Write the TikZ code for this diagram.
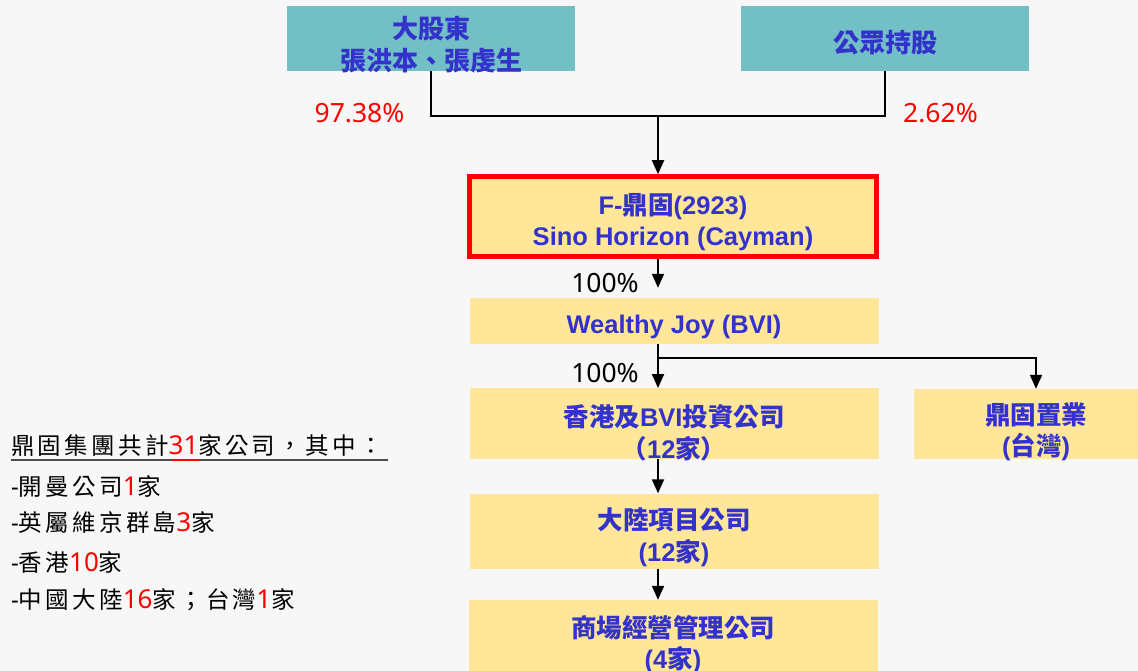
\documentclass[tikz,border=0pt]{standalone}
\usepackage{fontspec}
\setmainfont{Noto Sans}
\newfontfamily\latb{Liberation Sans}
\newfontfamily\zh{Noto Sans CJK TC}
\newfontfamily\zhleg{Noto Sans CJK TC}[LetterSpace=14]
\usetikzlibrary{arrows.meta}
\definecolor{bgcol}{HTML}{F7F7F7}
\definecolor{tealbox}{HTML}{72BFC6}
\definecolor{yelbox}{HTML}{FFE699}
\definecolor{bluetxt}{HTML}{3333CC}
\newcommand{\rednum}[1]{{\rmfamily\color{red}\fontsize{26}{30}\selectfont #1}}
\newcommand{\legdash}{{\rmfamily\fontsize{24}{30}\selectfont -}}
\tikzset{
  boxtext/.style={inner sep=0pt, align=center, text=bluetxt, font=\latb\bfseries\fontsize{25.5}{31.5}\selectfont},
  zhtext/.style={boxtext, font=\zh\bfseries\fontsize{26}{31.5}\selectfont},
  tealnode/.style={inner sep=0pt, fill=tealbox, minimum width=288pt, minimum height=65pt},
  yelnode/.style={inner sep=0pt, fill=yelbox},
  conn/.style={line width=2pt, draw=black},
  arr/.style={conn, -{Triangle[width=12pt,length=14pt]}},
  pct/.style={font=\fontsize{26.5}{30}\selectfont, inner sep=0pt},
  legend/.style={font=\zhleg\fontsize{23.5}{30}\selectfont, anchor=west, inner sep=0pt, text=black},
  ulgray/.style={line width=1.5pt, draw=black!70},
}
\begin{document}
\begin{tikzpicture}[x=1pt,y=-1pt]
\path[fill=bgcol] (0,0) rectangle (1138,671);
\useasboundingbox (0,0) rectangle (1138,671);

% top boxes
\node[tealnode] (sh) at (431,38.5) {};
\node[zhtext, yshift=-6pt] (sht) at (sh) {大股東\\張洪本、張虔生};
\node[tealnode] (pub) at (885,38.5) {};
\node[zhtext, yshift=-4pt] (pubt) at (pub) {公眾持股};

% main chain
\node[yelnode, draw=red, line width=5pt, minimum width=407pt, minimum height=80pt] (f) at (673,216.7) {};
\node[boxtext, yshift=-5.5pt] (ft) at (f) {F-{\zh 鼎固}(2923)\\Sino Horizon (Cayman)};
\node[yelnode, minimum width=409pt, minimum height=46pt] (wj) at (674,321) {};
\node[boxtext, yshift=-6pt] (wjt) at (wj) {Wealthy Joy (BVI)};
\node[yelnode, minimum width=409pt, minimum height=71pt] (hk) at (674,423.7) {};
\node[boxtext, yshift=-9pt] (hkt) at (hk) {{\zh 香港及}BVI{\zh 投資公司}\\{\zh （}12{\zh 家）}};
\node[yelnode, minimum width=244pt, minimum height=70pt] (tw) at (1036,424) {};
\node[boxtext, yshift=-7.5pt] (twt) at (tw) {{\zh 鼎固置業}\\({\zh 台灣})};
\node[yelnode, minimum width=409pt, minimum height=75pt] (ml) at (674,531) {};
\node[boxtext, yshift=-6pt] (mlt) at (ml) {{\zh 大陸項目公司}\\(12{\zh 家})};
\node[yelnode, minimum width=409pt, minimum height=87pt] (mm) at (673,643.5) {};
\node[boxtext, yshift=-1pt] (mmt) at (mm) {{\zh 商場經營管理公司}\\(4{\zh 家})};

% connectors
\coordinate (j) at (658,116);
\coordinate (br) at (658,358);
\draw[conn] (sh.south) |- (j) -| (pub.south);
\draw[arr] (j) -- (j |- f.north);
\draw[arr, shorten >=10pt] (f.south -| j) -- (j |- wj.north);
\draw[arr] (wj.south -| j) -- (j |- hk.north);
\draw[arr] (br) -| (tw.north);
\draw[arr] (hk.south -| j) -- (j |- ml.north);
\draw[arr] (ml.south -| j) -- (j |- mm.north);

% percentages
\node[pct, text=red] (p97) at (359.5,113) {97.38\%};
\node[pct, text=red] (p2) at (940.5,113) {2.62\%};
\node[pct] (p100a) at (605,283) {100\%};
\node[pct] (p100b) at (605,373) {100\%};

% legend
\node[legend] (l1) at (11,446) {鼎固集團共計\rednum{31}家公司，其中：};
\node[legend] (l2) at (11,486) {\legdash 開曼公司\rednum{1}家};
\node[legend] (l3) at (11,522) {\legdash 英屬維京群島\rednum{3}家};
\node[legend] (l4) at (11,562) {\legdash 香港\rednum{10}家};
\node[legend] (l5) at (11,600) {\legdash 中國大陸\rednum{16}家；台灣\rednum{1}家};
\draw[ulgray] (11,460) -- (388,460);
\draw[line width=1.5pt, draw=red] (172,460) -- (200,460);
\end{tikzpicture}
\end{document}
